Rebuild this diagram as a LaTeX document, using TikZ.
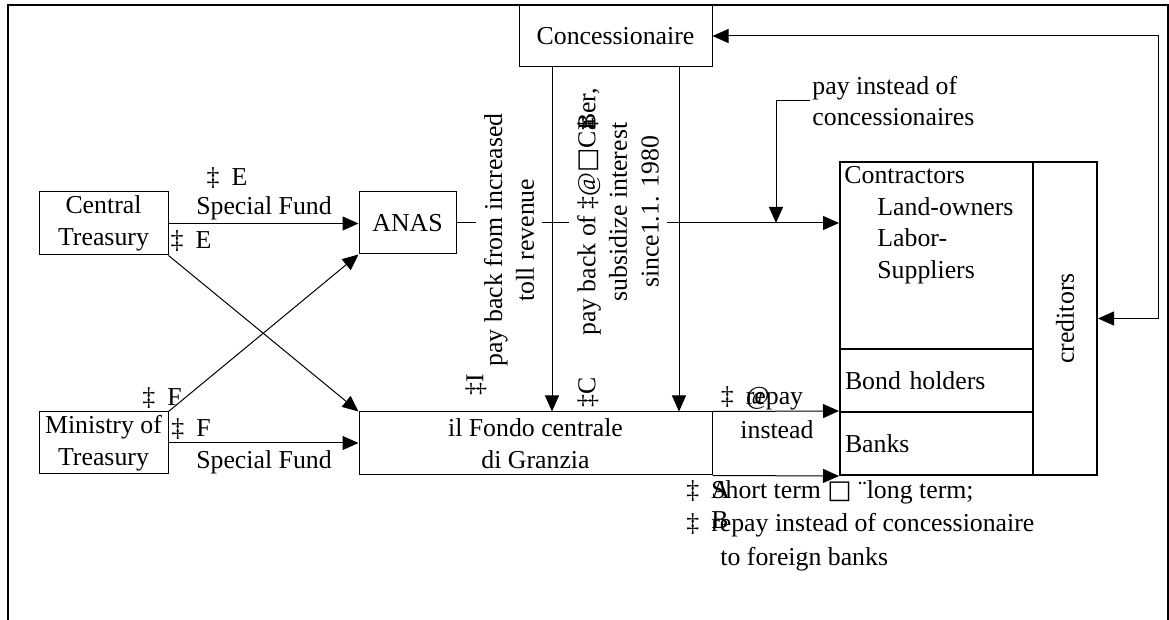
\documentclass[tikz,border=0pt]{standalone}
\usepackage{fontspec}
\setmainfont{Liberation Serif}
\newfontfamily\symf{DejaVu Sans}
\usetikzlibrary{arrows.meta, positioning}
\tikzset{
  box/.style = {rectangle, draw, line width=0.5pt, inner sep=0pt, align=center},
  thickbox/.style = {rectangle, draw, line width=1pt, inner sep=2.5pt, align=left},
  arrow/.style = {line width=0.5pt, -{Triangle[length=8pt, width=7pt]}},
  twoarrow/.style = {line width=0.5pt, {Triangle[length=8pt, width=7pt]}-{Triangle[length=8pt, width=7pt]}},
  lbl/.style = {inner sep=1pt, align=left},
  rot/.style = {rotate=90, fill=white, align=center, inner sep=4pt}
}
\newcommand{\dagmark}[1]{‡\hspace{6pt}#1}

\begin{document}
\begin{tikzpicture}[x=0.5pt, y=-0.5pt, font=\fontsize{12.9}{15.8}\selectfont]
  \useasboundingbox (0,0) rectangle (1169,620);
  % Rahmen
  \draw[line width=0.75pt] (8,620) -- (8,5) -- (1168,5) -- (1168,620);

  % Kaesten
  \node[box, minimum width=96.5pt, minimum height=31pt] (conc) at (615.5,36) {Concessionaire};
  \node[box, minimum width=64.5pt, minimum height=31.5pt] (ct) at (103.5,223.5) {Central\\Treasury};
  \node[box, minimum width=48.5pt, minimum height=31pt] (anas) at (407.5,223) {ANAS};
  \node[box, minimum width=64.5pt, minimum height=31pt] (mot) at (103.5,443) {Ministry of\\Treasury};
  \node[box, minimum width=176.5pt, minimum height=31.5pt] (fondo) at (535.5,443.5) {il Fondo centrale\\di Granzia};

  % Glaeubiger
  \node[thickbox, minimum width=96.5pt, minimum height=93.5pt] (contr) at (936.5,255.5) {};
  \node[lbl, inner sep=2.5pt, anchor=north west] (contrtxt) at (contr.north west) {Contractors\\\hspace*{16.5pt}Land-owners\\\hspace*{16.5pt}Labor-\\\hspace*{16.5pt}Suppliers};
  \node[thickbox, text width=91.5pt, minimum height=31.5pt] (bond) at (936.5,380.5) {Bond holders};
  \node[thickbox, text width=91.5pt, minimum height=31.5pt] (banks) at (936.5,443.5) {Banks};
  \node[thickbox, minimum width=32pt, minimum height=156.5pt] (cred) at (1065,318.5) {};
  \node[rotate=90] (credtxt) at (cred) {creditors};

  % Hilfspunkte
  \coordinate (d1) at (552,0);
  \coordinate (d2) at (679,0);
  \coordinate (rx) at (1158,0);
  \coordinate (joint) at (776,223);

  % Verbindungen
  \draw[arrow] (ct) -- (ct -| anas.west);
  \draw[arrow] (ct.south east) -- (fondo.north west);
  \draw[arrow] (mot.north east) -- (anas.south west);
  \draw[arrow] (mot) -- (mot -| fondo.west);
  \draw[arrow] (anas.east) -- (anas.east -| contr.west);
  \draw[arrow] (conc.south -| d1) -- (fondo.north -| d1);
  \draw[arrow] (conc.south -| d2) -- (fondo.north -| d2);
  \draw[arrow] (fondo.north east) -- (banks.north west);
  \draw[arrow] (fondo.south east) -- (banks.south west);
  \draw[twoarrow] (conc.east) -- (conc.east -| rx) |- (cred.east);

  \node[lbl, anchor=west] (payinst) at (810,101) {pay instead of\\concessionaires};
  \draw[arrow] (payinst.west) -| (joint);

  % Beschriftungen
  \node[lbl] (e1) at (227,178) {\dagmark{E}};
  \node[lbl] (sf1) at (264,208) {Special Fund};
  \node[lbl] (e2) at (191,241) {\dagmark{E}};
  \node[lbl] (f1) at (162,398) {\dagmark{F}};
  \node[lbl] (f2) at (191,429) {\dagmark{F}};
  \node[lbl] (sf2) at (264,462) {Special Fund};

  \node[rot] (tollrev) at (509,240) {pay back from increased\\toll revenue};
  \node[rot, fill=none, inner sep=0.5pt] (gI) at (476,385) {‡I};
  \node[rot] (subsid) at (618,212) {pay back of ‡@{\symf □}C\rlap{‡}\rlap{a}Ber,\\subsidize interest\\since1.1. 1980};
  \node[rot, fill=none, inner sep=0.5pt] (gC) at (588,392) {‡C};

  \node[lbl] (repay) at (762,398) {\dagmark{\rlap{@}repay}};
  \node[lbl] (instead) at (777,430) {instead};

  \node[lbl, anchor=north west] (shortterm) at (684,478) {\dagmark{\rlap{A}Short term {\symf □} ¨long term;}\\[1pt]\dagmark{\rlap{\raisebox{.3ex}{B}}repay instead of concessionaire}\\[1pt]\hspace*{17pt}to foreign banks};
\end{tikzpicture}
\end{document}
